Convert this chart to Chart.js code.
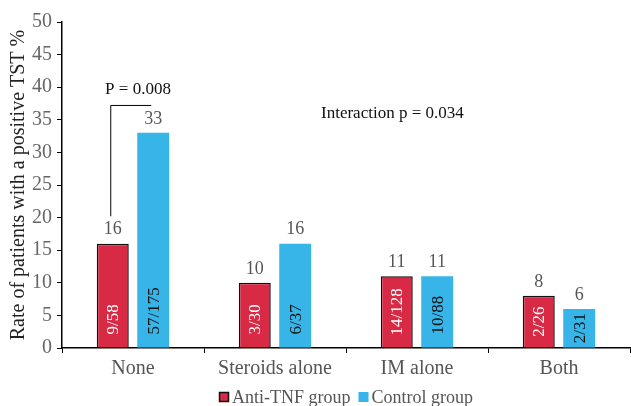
<!DOCTYPE html>
<html>
<head>
<meta charset="utf-8">
<script src="https://cdn.jsdelivr.net/npm/chart.js@4"></script>
<style>
  html, body { margin: 0; padding: 0; background: #fff; }
  #wrap { width: 631px; height: 406px; }
</style>
</head>
<body>
<div id="wrap"><canvas id="tst-chart"></canvas></div>
<script>
(function(){
    'use strict';

    var categories = ['None', 'Steroids alone', 'IM alone', 'Both'];
    var antiTnf = [16, 10, 11, 8];
    var control = [33, 16, 11, 6];
    var antiTnfCounts = ['9/58', '3/30', '14/128', '2/26'];
    var controlCounts = ['57/175', '6/37', '10/88', '2/31'];
    var yTicks = [0, 5, 10, 15, 20, 25, 30, 35, 40, 45, 50];

    var FONT = "'Liberation Serif', 'Times New Roman', serif";
    var RED = '#d82a44';
    var BLUE = '#38b5e8';

    // value labels, counts inside bars, annotations and the legend
    var labelsPlugin = {
        id: 'barLabels',
        afterDatasetsDraw: function(chart){
            var c = chart.ctx;
            var x = chart.scales.x, y = chart.scales.y;
            var counts = [antiTnfCounts, controlCounts];
            c.save();
            chart.data.datasets.forEach(function(ds, di){
                var meta = chart.getDatasetMeta(di);
                meta.data.forEach(function(bar, i){
                    c.fillStyle = '#555';
                    c.font = '18px ' + FONT;
                    c.textAlign = 'center';
                    c.textBaseline = 'bottom';
                    c.fillText(String(ds.data[i]), bar.x, bar.y - 5);

                    // rotated count text
                    var txt = counts[di][i];
                    c.font = '17px ' + FONT;
                    var w = c.measureText(txt).width;
                    var h = bar.base - bar.y;
                    var start = (w + 26 > h) ? bar.base - (h - w) / 2 : bar.base - 13;
                    c.save();
                    c.translate(bar.x + 1, start);
                    c.rotate(-Math.PI / 2);
                    c.fillStyle = di === 0 ? '#fff' : '#111';
                    c.textAlign = 'left';
                    c.textBaseline = 'middle';
                    c.fillText(txt, 0, 0);
                    c.restore();
                });
            });

            // P bracket for "None"
            var r = chart.getDatasetMeta(0).data[0];
            var b = chart.getDatasetMeta(1).data[0];
            var yTop = y.getPixelForValue(37.2);
            c.strokeStyle = '#000';
            c.lineWidth = 1;
            c.beginPath();
            c.moveTo(r.x - 2, y.getPixelForValue(antiTnf[0] + 4.2));
            c.lineTo(r.x - 2, yTop);
            c.lineTo(b.x - 2, yTop);
            c.stroke();

            c.fillStyle = '#111';
            c.font = '17px ' + FONT;
            c.textAlign = 'center';
            c.textBaseline = 'middle';
            c.fillText('P = 0.008', (r.x + b.x) / 2 + 5, y.getPixelForValue(39.7));
            c.textAlign = 'left';
            c.fillText('Interaction p = 0.034', x.getPixelForValue(1) + 46, y.getPixelForValue(35.9));

            // legend
            var items = [
                { label: chart.data.datasets[0].label, fill: RED, stroke: true },
                { label: chart.data.datasets[1].label, fill: BLUE, stroke: false }
            ];
            c.font = '18px ' + FONT;
            var gap = 8, box = 10, tpad = 3;
            var total = 0;
            items.forEach(function(it, k){
                total += box + tpad + c.measureText(it.label).width + (k ? 0 : gap);
            });
            var lx = (chart.chartArea.left + chart.chartArea.right) / 2 - total / 2;
            var ly = 397;
            items.forEach(function(it){
                c.fillStyle = it.fill;
                c.fillRect(lx, ly - box / 2, box, box);
                if (it.stroke) {
                    c.strokeStyle = '#111';
                    c.lineWidth = 1.5;
                    c.strokeRect(lx + 0.5, ly - box / 2 + 0.5, box - 1, box - 1);
                }
                c.fillStyle = '#555';
                c.textAlign = 'left';
                c.textBaseline = 'middle';
                c.fillText(it.label, lx + box + tpad, ly + 1);
                lx += box + tpad + c.measureText(it.label).width + gap;
            });
            c.restore();
        }
    };

    new Chart(document.getElementById('tst-chart').getContext('2d'), {
        type: 'bar',
        data: {
            labels: categories,
            datasets: [{
                label: 'Anti-TNF group',
                data: antiTnf,
                backgroundColor: RED,
                borderColor: '#111',
                borderWidth: 1.5,
                borderSkipped: 'bottom',
                categoryPercentage: 0.57,
                barPercentage: 0.79
            }, {
                label: 'Control group',
                data: control,
                backgroundColor: BLUE,
                borderWidth: 0,
                categoryPercentage: 0.57,
                barPercentage: 0.79
            }]
        },
        options: {
            responsive: true,
            maintainAspectRatio: false,
            animation: false,
            layout: { padding: { top: 22, right: 1, bottom: 0, left: 0 } },
            plugins: {
                legend: { display: false },
                tooltip: { enabled: false }
            },
            scales: {
                x: {
                    grid: {
                        offset: true,
                        drawOnChartArea: false,
                        drawTicks: true,
                        tickLength: 5,
                        color: '#000'
                    },
                    border: { color: '#000', width: 1.5 },
                    ticks: {
                        color: '#555',
                        padding: 4,
                        font: { family: FONT, size: 20 }
                    },
                    afterFit: function(s){ s.height = 58; }
                },
                y: {
                    min: 0,
                    max: 50,
                    afterBuildTicks: function(s){
                        s.ticks = yTicks.map(function(v){ return { value: v }; });
                    },
                    grid: {
                        drawOnChartArea: false,
                        drawTicks: true,
                        tickLength: 5,
                        color: '#000'
                    },
                    border: { color: '#000', width: 1.5 },
                    ticks: {
                        color: '#666',
                        padding: 5,
                        font: { family: FONT, size: 20 }
                    },
                    title: {
                        display: true,
                        text: 'Rate of patients with a positive TST %',
                        color: '#222',
                        padding: { top: 7, bottom: 0 },
                        font: { family: FONT, size: 20 }
                    },
                    afterFit: function(s){ s.width = 62; }
                }
            }
        },
        plugins: [labelsPlugin]
    });
})();
</script>
</body>
</html>
